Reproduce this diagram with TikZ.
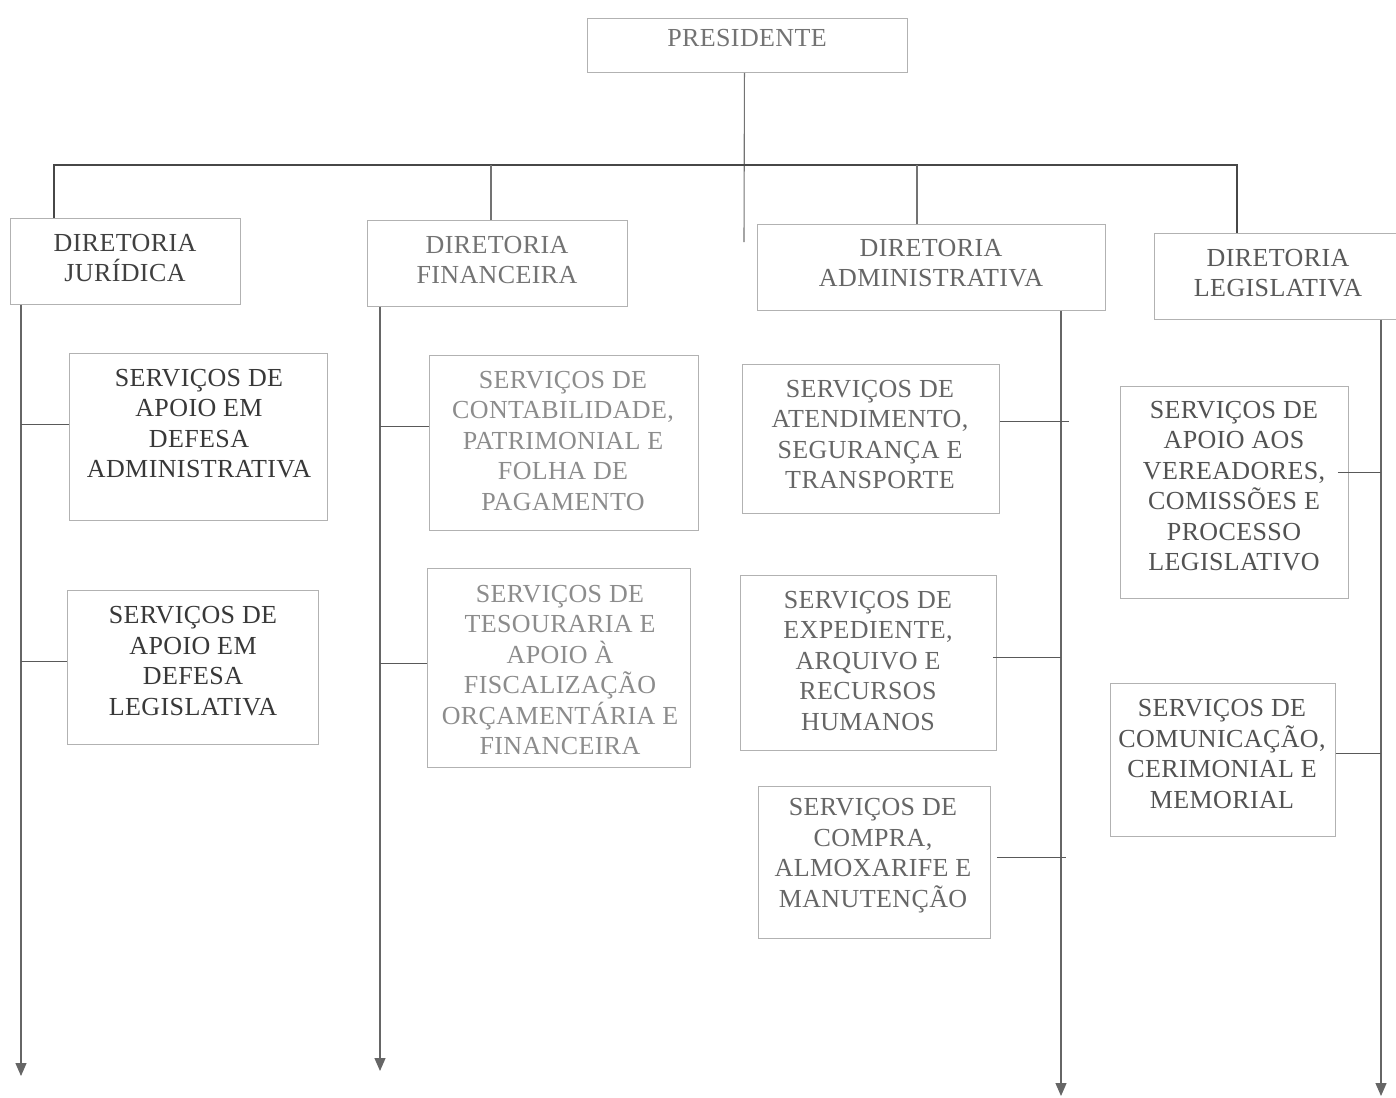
\documentclass[tikz,border=0pt]{standalone}
\usepackage{fontspec}
\setmainfont[LetterSpace=1.5]{Liberation Serif}
\usetikzlibrary{arrows.meta,calc}
\begin{document}
\begin{tikzpicture}[x=1pt,y=-1pt,
  box/.style={draw=black!30, line width=0.9pt, anchor=north west, inner sep=0pt},
  txt/.style={align=center, font=\fontsize{26}{30.5}\selectfont, inner sep=0pt},
  bar/.style={draw=black!72, line width=1.6pt},
  link/.style={draw=black!55, line width=1.1pt},
  spine/.style={draw=black!55, line width=1.2pt, -{Triangle[width=11pt,length=13pt]}, color=black!60},
  branch/.style={draw=black!65, line width=1.2pt}
]
\useasboundingbox (0,0) rectangle (1396,1097);

% President
\node[box, minimum width=320pt, minimum height=54pt] (pres) at (587,18) {};
\node[txt, text=black!55] (tpres) at (747,38) {PRESIDENTE};

% Directorates
\node[box, minimum width=230pt, minimum height=86pt] (dj) at (10,218) {};
\node[txt, text=black!75] (tdj) at (125,258) {DIRETORIA\\JURÍDICA};
\node[box, minimum width=260pt, minimum height=86pt] (df) at (367,220) {};
\node[txt, text=black!55] (tdf) at (497,260) {DIRETORIA\\FINANCEIRA};
\node[box, minimum width=348pt, minimum height=86pt] (da) at (757,224) {};
\node[txt, text=black!60] (tda) at (931,263) {DIRETORIA\\ADMINISTRATIVA};
\node[box, minimum width=250pt, minimum height=86pt] (dl) at (1154,233) {};
\node[txt, text=black!65] (tdl) at (1278,273) {DIRETORIA\\LEGISLATIVA};

% Services - Juridica
\node[box, minimum width=258pt, minimum height=167pt] (sj1) at (69,353) {};
\node[txt, text=black!78] (tsj1) at (199,423.5) {SERVIÇOS DE\\APOIO EM\\DEFESA\\ADMINISTRATIVA};
\node[box, minimum width=251pt, minimum height=154pt] (sj2) at (67,590) {};
\node[txt, text=black!78] (tsj2) at (193,661) {SERVIÇOS DE\\APOIO EM\\DEFESA\\LEGISLATIVA};

% Services - Financeira
\node[box, minimum width=269pt, minimum height=175pt] (sf1) at (429,355) {};
\node[txt, text=black!45] (tsf1) at (563,441) {SERVIÇOS DE\\CONTABILIDADE,\\PATRIMONIAL E\\FOLHA DE\\PAGAMENTO};
\node[box, minimum width=263pt, minimum height=199pt] (sf2) at (427,568) {};
\node[txt, text=black!45] (tsf2) at (560,670) {SERVIÇOS DE\\TESOURARIA E\\APOIO À\\FISCALIZAÇÃO\\ORÇAMENTÁRIA E\\FINANCEIRA};

% Services - Administrativa
\node[box, minimum width=257pt, minimum height=149pt] (sa1) at (742,364) {};
\node[txt, text=black!60] (tsa1) at (870,434.5) {SERVIÇOS DE\\ATENDIMENTO,\\SEGURANÇA E\\TRANSPORTE};
\node[box, minimum width=256pt, minimum height=175pt] (sa2) at (740,575) {};
\node[txt, text=black!60] (tsa2) at (868,661) {SERVIÇOS DE\\EXPEDIENTE,\\ARQUIVO E\\RECURSOS\\HUMANOS};
\node[box, minimum width=232pt, minimum height=152pt] (sa3) at (758,786) {};
\node[txt, text=black!60] (tsa3) at (873,855.5) {SERVIÇOS DE\\COMPRA,\\ALMOXARIFE E\\MANUTENÇÃO};

% Services - Legislativa
\node[box, minimum width=228pt, minimum height=212pt] (sl1) at (1120,386) {};
\node[txt, text=black!68] (tsl1) at (1234,486) {SERVIÇOS DE\\APOIO AOS\\VEREADORES,\\COMISSÕES E\\PROCESSO\\LEGISLATIVO};
\node[box, minimum width=225pt, minimum height=153pt] (sl2) at (1110,683) {};
\node[txt, text=black!68] (tsl2) at (1222,754) {SERVIÇOS DE\\COMUNICAÇÃO,\\CERIMONIAL E\\MEMORIAL};

% Coordinates
\coordinate (barmid) at (744,165);
\coordinate (prestail) at (744,242);
\coordinate (jend) at (21,1076);
\coordinate (fend) at (380,1071);
\coordinate (aend) at (1061,1096);
\coordinate (lend) at (1381,1096);

% Top structure
\draw[link] ([xshift=-3pt]pres.south) -- (prestail);
\draw[bar] ([xshift=44pt]dj.north west) |- (barmid) -| ([xshift=83pt]dl.north west);
\draw[link] ([xshift=124pt]df.north west) -- ([xshift=124pt]df.north west |- barmid);
\draw[link] ([xshift=160pt]da.north west) -- ([xshift=160pt]da.north west |- barmid);

% Spines
\draw[spine] ([xshift=11pt]dj.south west) -- (jend);
\draw[spine] ([xshift=13pt]df.south west) -- (fend);
\draw[spine] ([xshift=304pt]da.south west) -- (aend);
\draw[spine] ([xshift=227pt]dl.south west) -- (lend);

% Branches
\draw[branch] ($(sj1.west)+(0,-12.5)$) coordinate (b1) -- (b1 -| jend);
\draw[branch] ($(sj2.west)+(0,-6)$) coordinate (b2) -- (b2 -| jend);
\draw[branch] ($(sf1.west)+(0,-16.5)$) coordinate (b3) -- (b3 -| fend);
\draw[branch] ($(sf2.west)+(0,-4.5)$) coordinate (b4) -- (b4 -| fend);
\draw[branch] ($(sa1.east)+(0,-17.5)$) coordinate (b5) -- ($(b5 -| aend)+(8,0)$);
\draw[branch] ($(sa2.east)+(-4,-5.5)$) coordinate (b6) -- (b6 -| aend);
\draw[branch] ($(sa3.east)+(6,-5)$) coordinate (b7) -- ($(b7 -| aend)+(5,0)$);
\draw[branch] ($(sl1.east)+(-11,-20)$) coordinate (b8) -- (b8 -| lend);
\draw[branch] ($(sl2.east)+(0,-6.5)$) coordinate (b9) -- (b9 -| lend);
\end{tikzpicture}
\end{document}
